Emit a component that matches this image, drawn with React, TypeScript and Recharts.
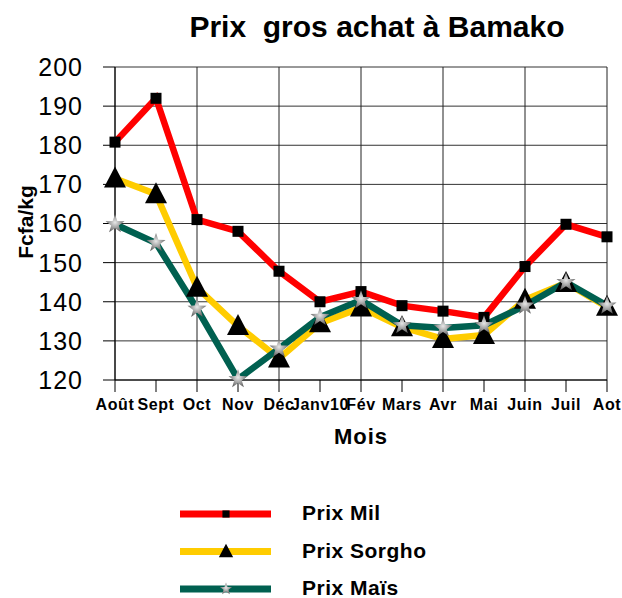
import { LineChart, Line, XAxis, YAxis, CartesianGrid, ReferenceLine } from "recharts";

const months = ["Août", "Sept", "Oct", "Nov", "Déc", "Janv10", "Fév", "Mars", "Avr", "Mai", "Juin", "Juil", "Aot"];
const mil = [180.8, 192, 161, 158, 147.8, 140, 142.6, 139, 137.6, 136, 149, 159.8, 156.6];
const sorgho = [171.5, 167.5, 143.6, 133.8, 125.5, 134.5, 138.5, 133.5, 130.5, 131.5, 140.5, 144.8, 138.7];
const mais = [159.8, 155, 138.2, 120.2, 128, 136.1, 140.4, 134, 133.3, 134, 139, 145, 139];
const yTicks = [120, 130, 140, 150, 160, 170, 180, 190, 200];
// every second month carries a vertical grid line
const gridMonths = ["Août", "Oct", "Déc", "Fév", "Avr", "Juin", "Aot"];

const series = [
  { key: "mil", name: "Prix Mil", color: "#FF0000", marker: "square" },
  { key: "sorgho", name: "Prix Sorgho", color: "#FFCC00", marker: "triangle" },
  { key: "mais", name: "Prix Maïs", color: "#006050", marker: "star" },
];

const data = months.map((m, i) => ({ month: m, mil: mil[i], sorgho: sorgho[i], mais: mais[i] }));

function starPoints(cx: number, cy: number, ro: number, ri: number) {
  const pts: string[] = [];
  for (let i = 0; i < 10; i++) {
    const r = i % 2 === 0 ? ro : ri;
    const a = -Math.PI / 2 + (i * Math.PI) / 5;
    pts.push(`${cx + r * Math.cos(a)},${cy + r * Math.sin(a)}`);
  }
  return pts.join(" ");
}

function Marker({ kind, cx, cy, scale = 1 }: { kind: string; cx: number; cy: number; scale?: number }) {
  if (kind === "square") {
    const s = 11 * scale;
    return <rect x={cx - s / 2} y={cy - s / 2} width={s} height={s} fill="#000" />;
  }
  if (kind === "triangle") {
    const w = 11 * scale;
    return (
      <polygon
        points={`${cx},${cy - 12 * scale} ${cx - w},${cy + 9 * scale} ${cx + w},${cy + 9 * scale}`}
        fill="#000"
      />
    );
  }
  return <polygon points={starPoints(cx, cy, 10 * scale, 4 * scale)} fill="url(#starGrad)" />;
}

const makeDot = (kind: string) => (p: any) => (
  <Marker key={`${kind}-${p.index}`} kind={kind} cx={p.cx} cy={p.cy} />
);

const font = "Liberation Sans, Arial, sans-serif";

export default function App() {
  return (
    <div style={{ position: "absolute", left: 0, top: 0, width: 622, height: 598, background: "#fff", fontFamily: font }}>
      <LineChart width={622} height={598} data={data} margin={{ top: 67, right: 15, left: 0, bottom: 148 }}>
        <defs>
          <radialGradient id="starGrad" cx="50%" cy="45%" r="60%">
            <stop offset="0%" stopColor="#e8e8e8" />
            <stop offset="100%" stopColor="#555" />
          </radialGradient>
        </defs>
        <CartesianGrid vertical={false} stroke="#333" />
        {gridMonths.map((m) => (
          <ReferenceLine key={m} x={m} stroke="#222" />
        ))}
        <XAxis
          dataKey="month"
          interval={0}
          height={70}
          tickSize={12}
          tickLine={{ stroke: "#000" }}
          axisLine={{ stroke: "#000" }}
          tick={{ fill: "#000", fontSize: 16, fontWeight: "bold", fontFamily: font, letterSpacing: 0.6 }}
          tickMargin={7}
        />
        <YAxis
          width={115}
          domain={[120, 200]}
          ticks={yTicks}
          tickSize={12}
          tickMargin={20}
          tickLine={{ stroke: "#000" }}
          axisLine={{ stroke: "#000" }}
          tick={{ fill: "#000", fontSize: 25, fontFamily: font, letterSpacing: 1 }}
        />
        {series.map((s) => (
          <Line
            key={s.key}
            dataKey={s.key}
            name={s.name}
            stroke={s.color}
            strokeWidth={6.5}
            strokeLinejoin="miter"
            dot={makeDot(s.marker)}
            activeDot={false}
            isAnimationActive={false}
          />
        ))}
      </LineChart>
      <svg style={{ position: "absolute", left: 0, top: 0, pointerEvents: "none" }} width={622} height={598}>
        <text x={377} y={37} textAnchor="middle" fontSize={30} fontWeight="bold" fontFamily={font} fill="#000" style={{ whiteSpace: "pre" }}>
          Prix  gros achat à Bamako
        </text>
        <text
          x={33}
          y={222}
          transform="rotate(-90 33 222)"
          textAnchor="middle"
          fontSize={21}
          fontWeight="bold"
          fontFamily={font}
          fill="#000"
        >
          Fcfa/kg
        </text>
        <text x={361} y={444} textAnchor="middle" fontSize={22} fontWeight="bold" fontFamily={font} letterSpacing={1} fill="#000">
          Mois
        </text>
        {series.map((s, i) => {
          const y = 514 + i * 37.5;
          return (
            <g key={s.key}>
              <line x1={180} x2={271} y1={y} y2={y} stroke={s.color} strokeWidth={7} />
              <Marker kind={s.marker} cx={226} cy={y} scale={0.65} />
              <text x={302} y={y + 6} fontSize={21} fontWeight="bold" fontFamily={font} letterSpacing={0.5} fill="#000">
                {s.name}
              </text>
            </g>
          );
        })}
      </svg>
    </div>
  );
}
